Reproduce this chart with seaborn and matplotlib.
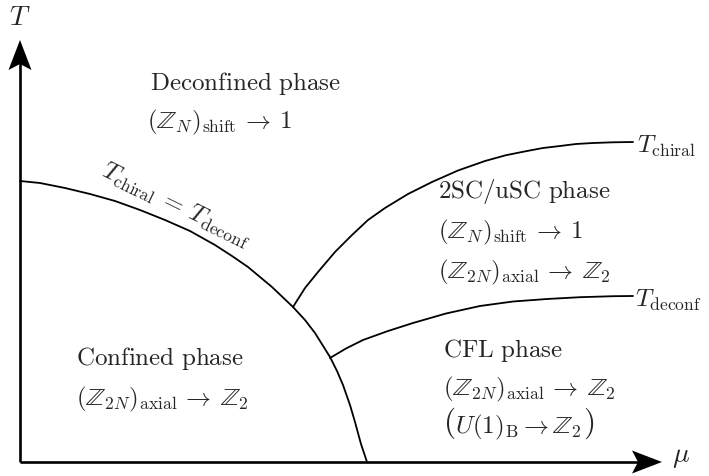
import matplotlib
matplotlib.use("Agg")
import matplotlib.pyplot as plt
import pandas as pd
import seaborn as sns

# Phase boundaries (mu, T in arbitrary units, origin at axis corner)
boundary_mu = [0, 20, 45, 70, 95, 120, 145, 170, 195, 212, 228, 252, 273, 285, 295,
               310, 317, 323, 330, 335, 341, 347]
boundary_T = [281, 279, 274, 268, 261, 252, 242, 231, 217, 206, 195, 175, 155, 142, 129,
              105, 91, 77, 57, 40, 18, 0]

chiral_mu = [273, 285, 298, 315, 332, 348, 365, 388, 412, 438, 465, 486, 507, 523, 540,
             556, 573, 593, 613]
chiral_T = [155, 174, 190, 210, 227, 242, 254, 268, 280, 291.5, 301, 306.8, 311, 314, 316,
            318, 319, 319.7, 320]

deconf_mu = [310, 326, 343, 368, 393, 426, 460, 493, 527, 560, 593, 613]
deconf_T = [104, 113.5, 122, 131, 139, 148.5, 156, 160.5, 163, 164.8, 165.8, 166]

curves = pd.concat([
    pd.DataFrame({"mu": boundary_mu, "T": boundary_T, "line": "boundary"}),
    pd.DataFrame({"mu": chiral_mu, "T": chiral_T, "line": "chiral"}),
    pd.DataFrame({"mu": deconf_mu, "T": deconf_T, "line": "deconf"}),
])

sns.set_theme(style="white")
plt.rcParams["mathtext.fontset"] = "cm"
plt.rcParams["font.family"] = ["DejaVu Sans"]

fig = plt.figure(figsize=(7.09, 4.76), dpi=100)
ax = fig.add_axes([0, 0, 1, 1])
ax.set_xlim(-20, 689)
ax.set_ylim(-14, 462)
ax.axis("off")

sns.lineplot(data=curves, x="mu", y="T", units="line", estimator=None, sort=False,
             color="black", linewidth=1.3, ax=ax)

# axes with stealth-style arrow heads
ax.plot([0, 0], [0, 400], color="black", lw=1.9, solid_capstyle="butt")
ax.plot([0, 620], [0, 0], color="black", lw=1.9, solid_capstyle="butt")
ax.fill([0, -11.5, 0, 11.5], [422, 392, 398, 392], color="black", lw=0)
ax.fill([642, 612, 618, 612], [0, 11.5, 0, -11.5], color="black", lw=0)

fs = 18
shift = r"$(\mathbb{Z}_N)_{\mathrm{shift}} \,\rightarrow\: 1$"
axial = r"$(\mathbb{Z}_{2N})_{\mathrm{axial}} \,\rightarrow\: \mathbb{Z}_2$"

ax.text(0, 437, r"$T$", fontsize=fs + 2, ha="center", va="baseline")
ax.text(652, 0, r"$\mu$", fontsize=fs + 2, ha="left", va="baseline")

ax.text(130, 372, r"$\mathrm{Deconfined\ phase}$", fontsize=fs, va="baseline")
ax.text(127, 334, shift, fontsize=fs, va="baseline")

ax.text(418, 264, r"$\mathrm{2SC/uSC\ phase}$", fontsize=fs, va="baseline")
ax.text(418, 224, shift, fontsize=fs, va="baseline")
ax.text(418, 184, axial, fontsize=fs, va="baseline")

ax.text(56, 97, r"$\mathrm{Confined\ phase}$", fontsize=fs, va="baseline")
ax.text(56, 57, axial, fontsize=fs, va="baseline")

ax.text(423, 105, r"$\mathrm{CFL\ phase}$", fontsize=fs, va="baseline")
ax.text(423, 67, axial, fontsize=fs, va="baseline")

# (U(1)_B -> Z_2) with slightly larger parentheses
ax.text(423, 31, r"$($", fontsize=fs * 1.25, va="baseline")
inner = ax.text(435, 29, r"$U(1)_{\mathrm{B}} \rightarrow \mathbb{Z}_2$", fontsize=fs, va="baseline")
fig.canvas.draw()
bb = inner.get_window_extent().transformed(ax.transData.inverted())
ax.text(bb.x1 + 1, 31, r"$)$", fontsize=fs * 1.25, va="baseline")

ax.text(617, 309, r"$T_{\mathrm{chiral}}$", fontsize=fs, va="baseline")
ax.text(615, 155, r"$T_{\mathrm{deconf}}$", fontsize=fs, va="baseline")
ax.text(156, 257, r"$T_{\mathrm{chiral}} \:=\: T_{\mathrm{deconf}}$", fontsize=fs,
        ha="center", va="center", rotation=-26, rotation_mode="anchor")

fig.savefig("out.png", dpi=100)
